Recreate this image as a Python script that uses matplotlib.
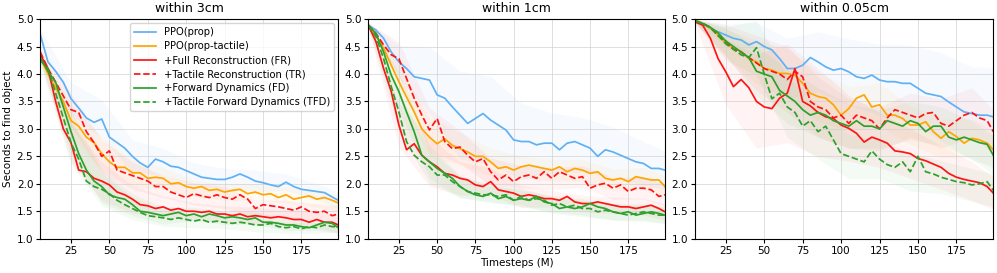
import matplotlib.pyplot as plt
import numpy as np

# timesteps (M), read every 5M off the curves
steps = list(range(5, 200, 5)) + [199]
band_idx = list(range(0, 40, 4)) + [39]   # coarser points for the shaded spread

labels = ["PPO(prop)", "PPO(prop-tactile)", "+Full Reconstruction (FR)",
          "+Tactile Reconstruction (TR)", "+Forward Dynamics (FD)",
          "+Tactile Forward Dynamics (TFD)"]
colors = ["#5fb0f5", "#ffa500", "#ff1414", "#ff1414", "#2ca02c", "#2ca02c"]
styles = ["-", "-", "-", "--", "-", "--"]
titles = ["within 3cm", "within 1cm", "within 0.05cm"]

# ---- within 3cm
p1_prop = [4.72, 4.22, 4.05, 3.85, 3.55, 3.38, 3.2, 3.12, 3.18, 2.85,
           2.75, 2.65, 2.5, 2.38, 2.3, 2.45, 2.4, 2.32, 2.3, 2.24,
           2.18, 2.12, 2.1, 2.08, 2.08, 2.12, 2.18, 2.12, 2.05, 2.02,
           1.98, 1.95, 2.03, 1.95, 1.9, 1.88, 1.86, 1.84, 1.76, 1.7]
p1_tac = [4.3, 4.0, 3.75, 3.5, 3.15, 3.05, 2.85, 2.75, 2.55, 2.4,
          2.3, 2.3, 2.2, 2.2, 2.1, 2.12, 2.1, 2.0, 2.02, 1.95,
          1.92, 1.95, 1.88, 1.9, 1.85, 1.88, 1.9, 1.82, 1.85, 1.8,
          1.82, 1.75, 1.8, 1.72, 1.75, 1.78, 1.72, 1.75, 1.7, 1.65]
p1_fr = [4.35, 4.1, 3.5, 3.0, 2.75, 2.25, 2.22, 2.1, 2.05, 1.98,
         1.85, 1.8, 1.72, 1.62, 1.6, 1.55, 1.58, 1.52, 1.55, 1.5,
         1.5, 1.48, 1.5, 1.45, 1.45, 1.42, 1.45, 1.4, 1.42, 1.4,
         1.38, 1.4, 1.38, 1.35, 1.35, 1.3, 1.35, 1.3, 1.3, 1.25]
p1_tr = [4.4, 4.1, 3.85, 3.6, 3.35, 3.3, 2.95, 2.75, 2.5, 2.6,
         2.25, 2.2, 2.15, 2.1, 2.05, 1.95, 1.95, 1.85, 1.8, 1.75,
         1.82, 1.78, 1.75, 1.8, 1.75, 1.72, 1.8, 1.72, 1.55, 1.62,
         1.6, 1.58, 1.55, 1.52, 1.58, 1.5, 1.48, 1.5, 1.42, 1.45]
p1_fd = [4.3, 4.05, 3.85, 3.4, 2.95, 2.55, 2.25, 2.05, 1.95, 1.8,
         1.75, 1.72, 1.62, 1.5, 1.48, 1.45, 1.42, 1.45, 1.48, 1.42,
         1.45, 1.4, 1.45, 1.42, 1.38, 1.4, 1.38, 1.35, 1.38, 1.3,
         1.3, 1.28, 1.25, 1.25, 1.22, 1.2, 1.25, 1.3, 1.28, 1.2]
p1_tfd = [4.25, 4.1, 3.65, 3.2, 2.75, 2.45, 2.05, 1.95, 1.9, 1.82,
          1.7, 1.62, 1.55, 1.48, 1.42, 1.4, 1.38, 1.35, 1.38, 1.35,
          1.32, 1.35, 1.3, 1.32, 1.3, 1.28, 1.3, 1.28, 1.25, 1.25,
          1.28, 1.22, 1.2, 1.22, 1.18, 1.22, 1.2, 1.25, 1.22, 1.22]
p1_sd = [[0.1, 0.3, 0.35, 0.3, 0.25, 0.2, 0.2, 0.2, 0.15, 0.15, 0.15],
         [0.1, 0.3, 0.3, 0.25, 0.2, 0.15, 0.15, 0.15, 0.15, 0.15, 0.15],
         [0.1, 0.35, 0.35, 0.25, 0.2, 0.15, 0.15, 0.15, 0.15, 0.15, 0.15],
         [0.1, 0.3, 0.3, 0.25, 0.2, 0.2, 0.2, 0.15, 0.15, 0.15, 0.15],
         [0.1, 0.4, 0.3, 0.2, 0.15, 0.12, 0.12, 0.12, 0.1, 0.1, 0.1],
         [0.1, 0.4, 0.3, 0.2, 0.15, 0.12, 0.12, 0.12, 0.1, 0.1, 0.1]]

# ---- within 1cm
p2_prop = [4.89, 4.8, 4.65, 4.4, 4.22, 4.1, 3.95, 3.92, 3.89, 3.62,
           3.56, 3.4, 3.25, 3.1, 3.19, 3.28, 3.16, 3.07, 2.98, 2.8,
           2.77, 2.77, 2.71, 2.74, 2.74, 2.62, 2.74, 2.77, 2.71, 2.65,
           2.5, 2.62, 2.58, 2.52, 2.46, 2.4, 2.37, 2.28, 2.28, 2.25]
p2_tac = [4.89, 4.7, 4.47, 4.16, 3.86, 3.58, 3.31, 3.0, 2.85, 2.73,
          2.82, 2.7, 2.64, 2.58, 2.5, 2.5, 2.4, 2.28, 2.31, 2.25,
          2.31, 2.34, 2.31, 2.28, 2.25, 2.31, 2.22, 2.28, 2.25, 2.19,
          2.22, 2.1, 2.07, 2.1, 2.04, 2.13, 2.1, 2.07, 2.07, 1.95]
p2_fr = [4.89, 4.59, 4.1, 3.68, 3.07, 2.62, 2.73, 2.52, 2.4, 2.31,
         2.19, 2.16, 2.1, 2.07, 1.98, 1.95, 2.04, 1.89, 1.86, 1.83,
         1.77, 1.8, 1.77, 1.73, 1.73, 1.7, 1.77, 1.67, 1.64, 1.64,
         1.67, 1.64, 1.61, 1.58, 1.58, 1.55, 1.58, 1.61, 1.55, 1.49]
p2_tr = [4.89, 4.74, 4.53, 4.35, 4.28, 3.92, 3.56, 3.25, 2.98, 3.19,
         2.77, 2.64, 2.67, 2.52, 2.4, 2.46, 2.22, 2.07, 2.16, 2.04,
         2.13, 2.16, 2.1, 2.22, 2.1, 2.22, 2.16, 2.1, 2.13, 1.92,
         1.98, 2.01, 1.92, 1.98, 1.86, 1.92, 1.92, 1.89, 1.77, 1.8]
p2_fd = [4.89, 4.74, 4.4, 3.98, 3.68, 3.31, 2.95, 2.52, 2.4, 2.28,
         2.19, 2.1, 1.95, 1.86, 1.8, 1.77, 1.83, 1.73, 1.77, 1.7,
         1.73, 1.7, 1.77, 1.67, 1.64, 1.55, 1.58, 1.55, 1.58, 1.64,
         1.58, 1.55, 1.49, 1.46, 1.49, 1.43, 1.46, 1.49, 1.46, 1.43]
p2_tfd = [4.89, 4.68, 4.28, 3.77, 3.31, 2.77, 2.52, 2.4, 2.31, 2.16,
          2.16, 2.04, 1.95, 1.86, 1.83, 1.8, 1.8, 1.77, 1.8, 1.7,
          1.77, 1.7, 1.73, 1.7, 1.61, 1.64, 1.58, 1.61, 1.55, 1.55,
          1.49, 1.52, 1.49, 1.46, 1.43, 1.46, 1.49, 1.46, 1.43, 1.43]
p2_sd = [[0.05, 0.3, 0.6, 0.8, 0.8, 0.7, 0.55, 0.5, 0.45, 0.4, 0.35],
         [0.05, 0.3, 0.35, 0.3, 0.25, 0.2, 0.2, 0.2, 0.2, 0.2, 0.2],
         [0.05, 0.4, 0.45, 0.3, 0.25, 0.2, 0.15, 0.15, 0.15, 0.15, 0.15],
         [0.05, 0.3, 0.4, 0.3, 0.25, 0.2, 0.2, 0.2, 0.2, 0.2, 0.2],
         [0.05, 0.35, 0.3, 0.2, 0.15, 0.15, 0.15, 0.15, 0.15, 0.15, 0.15],
         [0.05, 0.35, 0.3, 0.2, 0.15, 0.15, 0.15, 0.15, 0.15, 0.15, 0.15]]

# ---- within 0.05cm
p3_prop = [4.98, 4.92, 4.83, 4.77, 4.71, 4.65, 4.62, 4.53, 4.59, 4.5,
           4.44, 4.28, 4.1, 4.1, 4.16, 4.3, 4.22, 4.13, 4.07, 4.1,
           4.04, 3.95, 3.92, 3.98, 3.89, 3.86, 3.86, 3.83, 3.83, 3.74,
           3.65, 3.62, 3.59, 3.49, 3.4, 3.31, 3.28, 3.25, 3.25, 3.22]
p3_tac = [4.98, 4.92, 4.83, 4.71, 4.56, 4.47, 4.41, 4.28, 4.22, 4.1,
          4.07, 4.01, 4.01, 3.98, 3.83, 3.65, 3.59, 3.56, 3.44, 3.25,
          3.37, 3.56, 3.62, 3.4, 3.44, 3.25, 3.25, 3.19, 3.07, 3.07,
          3.13, 2.95, 2.83, 2.95, 2.86, 2.74, 2.83, 2.8, 2.74, 2.62]
p3_fr = [4.95, 4.89, 4.65, 4.28, 4.04, 3.77, 3.9, 3.75, 3.5, 3.4,
         3.37, 3.56, 3.65, 4.1, 3.5, 3.42, 3.3, 3.22, 3.19, 3.07,
         3.01, 2.92, 2.76, 2.85, 2.8, 2.74, 2.6, 2.58, 2.55, 2.46,
         2.42, 2.36, 2.3, 2.19, 2.12, 2.08, 2.05, 2.02, 1.95, 1.83]
p3_tr = [4.95, 4.92, 4.85, 4.7, 4.6, 4.45, 4.4, 4.3, 4.2, 4.1,
         4.05, 4.0, 3.9, 4.05, 3.95, 3.5, 3.4, 3.35, 3.2, 3.25,
         3.1, 3.25, 3.2, 3.15, 3.0, 3.2, 3.35, 3.3, 3.25, 3.2,
         3.28, 3.3, 3.1, 3.05, 3.15, 3.25, 3.3, 3.2, 3.15, 2.95]
p3_fd = [4.97, 4.92, 4.85, 4.75, 4.6, 4.5, 4.4, 4.3, 4.05, 4.0,
         3.95, 3.7, 3.6, 3.5, 3.35, 3.25, 3.3, 3.25, 3.15, 3.1,
         3.05, 3.15, 3.05, 3.05, 3.0, 3.15, 3.1, 3.05, 3.15, 3.1,
         2.95, 3.05, 3.05, 2.85, 2.8, 2.85, 2.8, 2.75, 2.72, 2.52]
p3_tfd = [4.97, 4.92, 4.85, 4.7, 4.55, 4.45, 4.35, 4.3, 4.48, 4.0,
          3.55, 3.65, 3.4, 3.3, 3.05, 3.15, 2.95, 3.05, 2.8, 2.55,
          2.5, 2.45, 2.4, 2.6, 2.45, 2.35, 2.3, 2.4, 2.22, 2.5,
          2.22, 2.18, 2.12, 2.08, 2.04, 2.02, 1.98, 2.0, 2.04, 1.88]
p3_sd = [[0.03, 0.2, 0.35, 0.55, 0.55, 0.6, 0.65, 0.7, 0.8, 0.85, 0.9],
         [0.03, 0.25, 0.4, 0.45, 0.45, 0.4, 0.4, 0.35, 0.35, 0.35, 0.35],
         [0.05, 0.6, 0.85, 0.9, 0.8, 0.6, 0.5, 0.45, 0.4, 0.35, 0.3],
         [0.03, 0.3, 0.5, 0.6, 0.55, 0.45, 0.4, 0.4, 0.45, 0.45, 0.4],
         [0.03, 0.25, 0.45, 0.5, 0.45, 0.4, 0.35, 0.35, 0.35, 0.35, 0.35],
         [0.03, 0.3, 0.5, 0.55, 0.5, 0.4, 0.35, 0.35, 0.3, 0.3, 0.3]]

panels = [
    ([p1_prop, p1_tac, p1_fr, p1_tr, p1_fd, p1_tfd], p1_sd),
    ([p2_prop, p2_tac, p2_fr, p2_tr, p2_fd, p2_tfd], p2_sd),
    ([p3_prop, p3_tac, p3_fr, p3_tr, p3_fd, p3_tfd], p3_sd),
]

plt.rcParams['font.size'] = 7.5
fig = plt.figure(figsize=(9.97, 2.73), dpi=100)
lefts = [0.0404, 0.3694, 0.6971]
widths = [0.2989, 0.2976, 0.2992]

x = np.array(steps)
xb = x[band_idx]
for i, (series, spreads) in enumerate(panels):
    ax = fig.add_axes([lefts[i], 0.1256, widths[i], 0.8044])
    for y, sd, c in zip(series, spreads, colors):
        yb = np.array(y)[band_idx]
        ax.fill_between(xb, yb - np.array(sd), yb + np.array(sd),
                        color=c, alpha=0.05, lw=0)
    for y, c, ls, lab in zip(series, colors, styles, labels):
        ax.plot(x, y, color=c, ls=ls, lw=1.25, label=lab)
    ax.set_xlim(5, 199)
    ax.set_ylim(1.0, 5.0)
    ax.set_xticks([25, 50, 75, 100, 125, 150, 175])
    ax.set_yticks(np.arange(1.0, 5.01, 0.5))
    ax.yaxis.set_major_formatter(plt.FormatStrFormatter('%.1f'))
    ax.grid(True, color='#d0d0d0', lw=0.7, alpha=0.7)
    ax.set_title(titles[i], fontsize=9, pad=5)
    ax.tick_params(length=3, pad=2)
    if i == 0:
        ax.set_ylabel("Seconds to find object", labelpad=3)
        ax.legend(loc='upper right', fontsize=7.2, handlelength=2.2,
                  borderaxespad=0.4, labelspacing=0.4)
    if i == 1:
        ax.set_xlabel("Timesteps (M)", labelpad=2)

fig.savefig("out.png", dpi=100)
